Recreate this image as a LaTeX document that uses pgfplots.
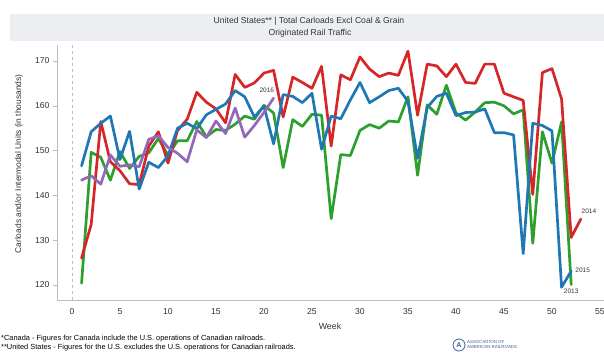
\documentclass[border=0pt]{standalone}
\usepackage{fontspec}
\setmainfont{Liberation Sans}
\usepackage{pgfplots}
\pgfplotsset{compat=1.18}
\definecolor{cA}{HTML}{2CA02C}
\definecolor{cB}{HTML}{D62728}
\definecolor{cC}{HTML}{1F77B4}
\definecolor{cD}{HTML}{9467BD}
\definecolor{band}{HTML}{ECEEF1}
\definecolor{txt}{HTML}{333333}
\definecolor{ax}{HTML}{BDBDBD}
\definecolor{logo}{HTML}{3A5C9C}
\begin{document}
\begin{tikzpicture}
\useasboundingbox (0pt,0pt) rectangle (604pt,352pt);
\fill[band] (10pt,311pt) rectangle (604pt,338pt);
\node[font=\fontsize{8.6}{10}\selectfont, text=txt] at (309pt,331pt) {United States** | Total Carloads Excl Coal \& Grain};
\node[font=\fontsize{8.6}{10}\selectfont, text=txt] at (310pt,319pt) {Originated Rail Traffic};
\begin{axis}[
  at={(57pt,52pt)}, anchor=south west,
  width=547pt, height=255pt, scale only axis,
  xmin=-1.56, xmax=55.42, ymin=116.65, ymax=173.57,
  axis x line*=bottom, axis y line*=left,
  axis line style={ax, line width=0.6pt, -},
  xtick={0,5,...,55}, ytick={120,130,...,170},
  x tick style={draw=none},
  y tick style={ax, line width=0.5pt},
  major tick length=4pt,
  tick align=outside,
  ticklabel style={font=\fontsize{8.6}{10}\selectfont, text=txt},
  /pgf/number format/assume math mode=true,
  xticklabel style={yshift=-1pt},
  clip=true,
  every axis plot/.append style={line width=2.7pt, line join=round, line cap=round, mark=none},
]
\addplot[ax, dashed, line width=0.5pt, line cap=butt] coordinates {(0,116.65) (0,173.57)};
% 2013
\addplot[cA] coordinates {
(1,120.4) (2,149.6) (3,148.5) (4,143.4) (5,149.8) (6,146.0) (7,148.7) (8,149.5) (9,152.7) (10,149.0)
(11,152.2) (12,152.2) (13,156.5) (14,153.1) (15,154.7) (16,154.5) (17,155.9) (18,157.7) (19,157.0) (20,160.1)
(21,158.4) (22,146.2) (23,156.9) (24,155.4) (25,158.1) (26,157.9) (27,134.8) (28,149.1) (29,148.9) (30,154.5)
(31,155.8) (32,155.0) (33,156.6) (34,156.4) (35,162.0) (36,144.5) (37,160.2) (38,158.1) (39,164.6) (40,158.4)
(41,156.8) (42,158.6) (43,160.7) (44,160.8) (45,160.0) (46,158.2) (47,159.1) (48,129.3) (49,154.2) (50,147.2)
(51,156.4) (52,120.1)};
% 2014
\addplot[cB] coordinates {
(1,126.0) (2,133.5) (3,156.5) (4,147.5) (5,145.5) (6,142.6) (7,142.4) (8,151.0) (9,154.2) (10,147.2)
(11,154.5) (12,157.0) (13,163.0) (14,160.8) (15,159.3) (16,156.2) (17,167.0) (18,164.1) (19,165.1) (20,167.3)
(21,167.9) (22,157.5) (23,166.4) (24,165.2) (25,163.9) (26,168.8) (27,151.0) (28,166.9) (29,165.8) (30,170.9)
(31,168.2) (32,166.5) (33,167.3) (34,166.8) (35,172.2) (36,157.9) (37,169.3) (38,168.9) (39,166.5) (40,169.3)
(41,165.2) (42,165.0) (43,169.3) (44,169.3) (45,162.8) (46,162.0) (47,161.2) (48,140.2) (49,167.4) (50,168.3)
(51,161.5) (52,130.6) (53,134.7)};
% 2015
\addplot[cC] coordinates {
(1,146.6) (2,154.2) (3,156.1) (4,157.7) (5,148.0) (6,154.3) (7,141.4) (8,147.4) (9,146.2) (10,148.8)
(11,155.0) (12,156.1) (13,154.9) (14,158.0) (15,159.2) (16,160.4) (17,163.4) (18,162.0) (19,157.5) (20,159.9)
(21,151.5) (22,162.5) (23,162.1) (24,160.7) (25,162.8) (26,150.3) (27,157.7) (28,157.1) (29,161.3) (30,165.2)
(31,160.7) (32,162.0) (33,163.4) (34,163.9) (35,161.0) (36,148.3) (37,159.6) (38,162.1) (39,162.8) (40,157.8)
(41,158.5) (42,158.6) (43,159.3) (44,154.0) (45,154.0) (46,153.5) (47,127.0) (48,156.1) (49,155.6) (50,154.4)
(51,119.5) (52,123.1)};
% 2016
\addplot[cD] coordinates {
(1,143.4) (2,144.4) (3,142.5) (4,149.0) (5,146.5) (6,146.8) (7,146.4) (8,152.5) (9,153.3) (10,150.7)
(11,149.4) (12,147.5) (13,154.6) (14,152.9) (15,156.6) (16,153.8) (17,159.5) (18,153.0) (19,155.6) (20,158.5)
(21,161.7)};
\node[font=\fontsize{6.5}{7}\selectfont, text=txt] at (axis cs:20.3,163.4) {2016};
\node[font=\fontsize{6.5}{7}\selectfont, text=txt] at (axis cs:53.85,136.5) {2014};
\node[font=\fontsize{6.5}{7}\selectfont, text=txt] at (axis cs:53.2,123.3) {2015};
\node[font=\fontsize{6.5}{7}\selectfont, text=txt] at (axis cs:52.0,118.7) {2013};
\end{axis}
\node[rotate=90, font=\fontsize{8.4}{10}\selectfont, text=txt] at (19pt,188pt) {Carloads and/or Intermodal Units (in thousands)};
\node[font=\fontsize{8.8}{10}\selectfont, text=txt] at (330pt,26pt) {Week};
\node[anchor=west, font=\fontsize{7.4}{8}\selectfont, text=black, inner sep=0pt] at (1pt,13pt) {*Canada - Figures for Canada include the U.S. operations of Canadian railroads.};
\node[anchor=west, font=\fontsize{7.4}{8}\selectfont, text=black, inner sep=0pt] at (1pt,4.5pt) {**United States - Figures for the U.S. excludes the U.S. operations for Canadian railroads.};
\draw[logo, line width=0.8pt] (459pt,7pt) circle (6pt);
\node[font=\bfseries\fontsize{7}{8}\selectfont, text=logo] at (459pt,6.5pt) {A};
\node[anchor=west, align=left, font=\fontsize{4.4}{4.8}\selectfont, text=logo, inner sep=0pt] at (467pt,7.5pt) {ASSOCIATION OF\\AMERICAN RAILROADS};
\end{tikzpicture}
\end{document}
